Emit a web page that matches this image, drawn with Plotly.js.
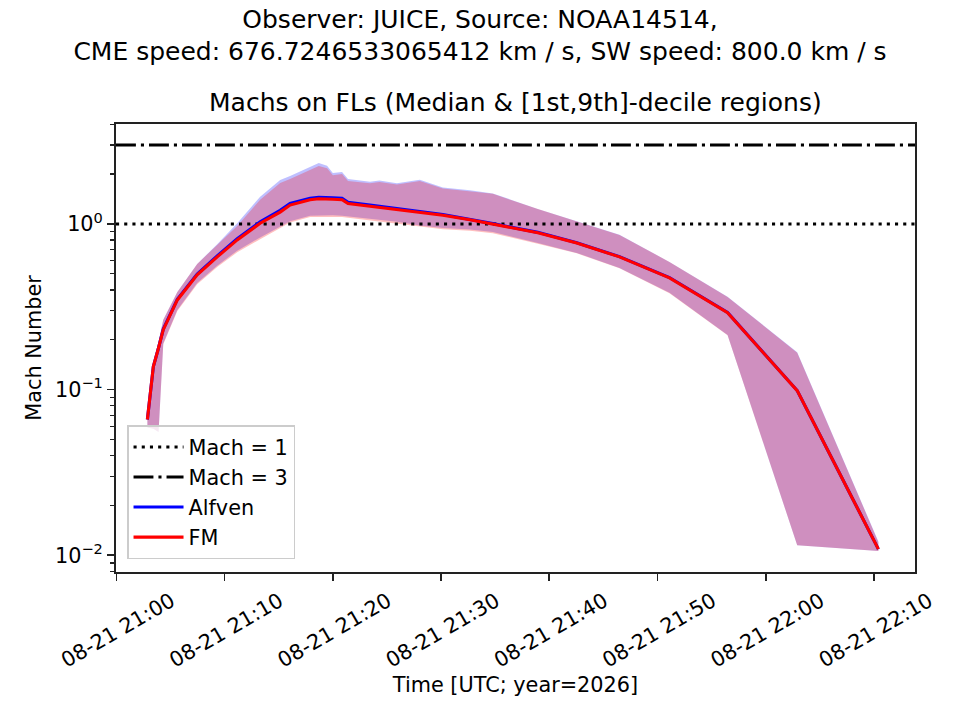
<!DOCTYPE html>
<html>
<head>
<meta charset="utf-8">
<script src="https://cdn.plot.ly/plotly-3.0.1.min.js"></script>
<style>
  html, body { margin: 0; padding: 0; background: #ffffff; }
  #plot { width: 960px; height: 720px; }
</style>
</head>
<body>
<div id="plot"></div>
<script>
// Mach numbers along field lines
const day = '2026-08-21 ';
const times = [
  '21:02:52', '21:03:25', '21:03:54', '21:04:20', '21:05:38', '21:07:28', '21:09:19',
  '21:11:10', '21:13:17', '21:15:08', '21:16:03', '21:17:54', '21:18:42', '21:19:28',
  '21:20:00', '21:20:51', '21:21:24', '21:23:26', '21:24:18', '21:25:55', '21:28:02',
  '21:30:10', '21:32:40', '21:34:47', '21:38:56', '21:42:32', '21:46:29', '21:51:06',
  '21:56:28', '22:02:54', '22:10:24'
];

const alfvenMedian = [
  0.066, 0.138, 0.179, 0.232, 0.351, 0.498, 0.642, 0.815, 1.03, 1.21, 1.33, 1.43, 1.45, 1.45,
  1.44, 1.43, 1.35, 1.30, 1.28, 1.245, 1.19, 1.14, 1.07, 1.005, 0.89, 0.77, 0.635, 0.475,
  0.292, 0.0988, 0.0109
];
const alfvenLow = [
  0.059, 0.058, 0.0555, 0.19, 0.303, 0.441, 0.56, 0.69, 0.83, 0.97, 1.04, 1.12, 1.125, 1.13,
  1.13, 1.12, 1.11, 1.07, 1.06, 1.03, 0.98, 0.946, 0.926, 0.895, 0.768, 0.669, 0.543, 0.384,
  0.214, 0.0115, 0.0106
];
const alfvenHigh = [
  0.0737, 0.146, 0.195, 0.264, 0.389, 0.574, 0.755, 1.01, 1.46, 1.84, 1.95, 2.21, 2.33, 2.25,
  2.03, 2.06, 1.87, 1.80, 1.83, 1.76, 1.85, 1.66, 1.60, 1.53, 1.23, 1.04, 0.86, 0.59,
  0.364, 0.168, 0.0121
];

const fmMedian = [
  0.066, 0.138, 0.179, 0.230, 0.348, 0.493, 0.633, 0.801, 1.01, 1.18, 1.30, 1.40, 1.42, 1.42,
  1.41, 1.40, 1.33, 1.28, 1.26, 1.23, 1.18, 1.13, 1.06, 1.00, 0.886, 0.768, 0.633, 0.473,
  0.291, 0.0986, 0.0109
];
const fmLow = [
  0.059, 0.058, 0.0555, 0.188, 0.298, 0.433, 0.55, 0.675, 0.81, 0.95, 1.02, 1.10, 1.10, 1.11,
  1.11, 1.10, 1.09, 1.05, 1.04, 1.01, 0.965, 0.93, 0.91, 0.88, 0.76, 0.665, 0.54, 0.382,
  0.213, 0.0115, 0.0106
];
const fmHigh = [
  0.0737, 0.146, 0.195, 0.264, 0.389, 0.574, 0.747, 0.973, 1.40, 1.77, 1.87, 2.12, 2.24, 2.17,
  1.97, 2.0, 1.82, 1.76, 1.79, 1.73, 1.82, 1.64, 1.58, 1.52, 1.23, 1.04, 0.859, 0.590,
  0.363, 0.167, 0.0120
];

const machOne = 1;
const machThree = 3;
const xRange = ['2026-08-21 20:59:58', '2026-08-21 22:13:47'];
const yTickVals = [0.01, 0.1, 1];
const yTickText = ['10<sup>\u22122</sup>', '10<sup>\u22121</sup>', '10<sup>0</sup>'];

const FONT = 'DejaVu Sans, Liberation Sans, sans-serif';
const x = times.map(t => day + t);

const traces = [];

// decile bands (drawn first so the median lines sit on top)
function addBand(low, high, color) {
  traces.push({
    x: x, y: low, mode: 'lines', line: { width: 0 },
    showlegend: false, hoverinfo: 'skip'
  });
  traces.push({
    x: x, y: high, mode: 'lines', line: { width: 0 },
    fill: 'tonexty', fillcolor: color,
    showlegend: false, hoverinfo: 'skip'
  });
}
addBand(alfvenLow, alfvenHigh, 'rgba(0,0,255,0.25)');
addBand(fmLow, fmHigh, 'rgba(255,0,0,0.25)');

// reference Mach levels
traces.push({
  x: xRange, y: [machOne, machOne], mode: 'lines', name: 'Mach = 1',
  legendgroup: 'm1', legendrank: 1,
  line: { color: 'black', width: 3.1, dash: '3.1px,5.1px' }
});
traces.push({
  x: xRange, y: [machThree, machThree], mode: 'lines', name: 'Mach = 3',
  legendgroup: 'm3', legendrank: 2,
  line: { color: 'black', width: 3.1, dash: '19.9px,5px,3.1px,5px' }
});

// medians
traces.push({
  x: x, y: alfvenMedian, mode: 'lines', name: 'Alfven',
  legendgroup: 'alf', legendrank: 3,
  line: { color: 'blue', width: 3.1 }
});
traces.push({
  x: x, y: fmMedian, mode: 'lines', name: 'FM',
  legendgroup: 'fm', legendrank: 4,
  line: { color: 'red', width: 3.1 }
});

const labelFont = { family: FONT, size: 20.8, color: 'black' };
const titleFont = { family: FONT, size: 25, color: 'black' };

const layout = {
  width: 960,
  height: 720,
  margin: { l: 116, r: 45, t: 124, b: 148 },
  paper_bgcolor: '#ffffff',
  plot_bgcolor: '#ffffff',
  font: labelFont,
  title: {
    text: 'Observer: JUICE, Source: NOAA14514,<br>CME speed: 676.7246533065412 km / s, SW speed: 800.0 km / s',
    x: 0.5, xanchor: 'center',
    y: 0.9614, yanchor: 'top',
    font: titleFont
  },
  showlegend: true,
  legend: {
    x: 0.0138, xanchor: 'left',
    y: 0.028, yanchor: 'bottom',
    bgcolor: 'rgba(255,255,255,0.8)',
    bordercolor: '#cccccc',
    borderwidth: 1.5,
    traceorder: 'grouped',
    tracegroupgap: 0,
    itemwidth: 50,
    font: labelFont
  },
  xaxis: {
    type: 'date',
    range: xRange,
    tick0: '2026-08-21 21:00:00',
    dtick: 600000,
    tickformat: '%m-%d %H:%M',
    tickangle: -30,
    ticklabelshift: 55,
    ticks: 'outside', ticklen: 7.3, tickwidth: 1.67, tickcolor: '#222222',
    showline: true, mirror: true, linecolor: '#222222', linewidth: 1.67,
    showgrid: false, zeroline: false,
    tickfont: labelFont,
    automargin: false,
    title: { text: 'Time [UTC; year=2026]', font: labelFont, standoff: 6 }
  },
  yaxis: {
    type: 'log',
    range: [-2.1008, 0.6035],
    tickmode: 'array',
    tickvals: yTickVals,
    ticktext: yTickText,
    ticks: 'outside', ticklen: 7.3, tickwidth: 1.67, tickcolor: '#222222',
    minor: { ticks: 'outside', ticklen: 4.2, tickwidth: 1.25, tickcolor: '#222222', dtick: 'D1', showgrid: false },
    showline: true, mirror: true, linecolor: '#222222', linewidth: 1.67,
    showgrid: false, zeroline: false,
    tickfont: labelFont,
    automargin: false,
    title: { text: 'Mach Number', font: labelFont, standoff: 8 }
  },
  annotations: [
    {
      text: 'Machs on FLs (Median &amp; [1st,9th]-decile regions)',
      xref: 'paper', yref: 'paper', x: 0.5, y: 1.047,
      xanchor: 'center', yanchor: 'middle', showarrow: false,
      font: titleFont
    }
  ]
};

Plotly.newPlot('plot', traces, layout, { displayModeBar: false, staticPlot: true });
</script>
</body>
</html>
